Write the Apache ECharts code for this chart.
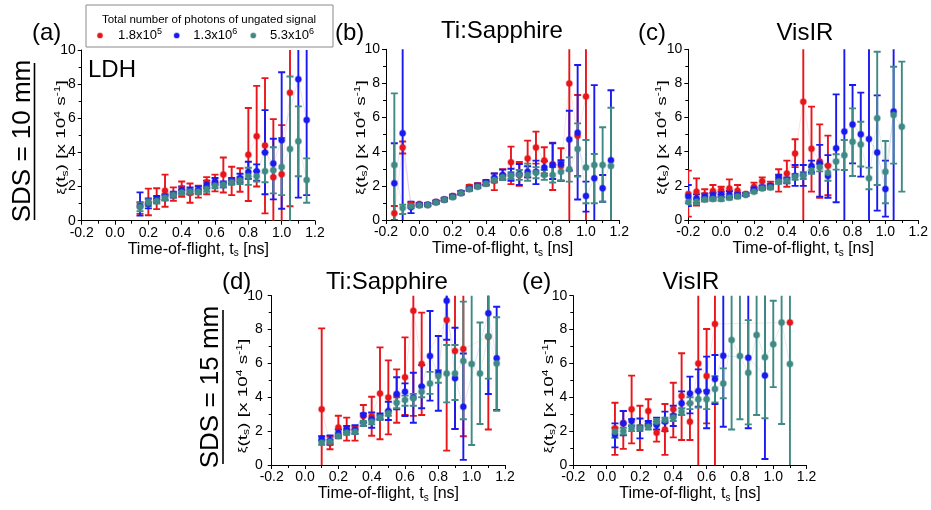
<!DOCTYPE html>
<html><head><meta charset="utf-8">
<script src="https://cdn.jsdelivr.net/npm/echarts@6/dist/echarts.min.js"></script>
<style>html,body{margin:0;padding:0;background:#fff}#c{width:931px;height:510px}</style>
</head><body><div id="c"></div>
<script>
// ---------------- DATA ----------------
const xTicks = [-0.2, 0.0, 0.2, 0.4, 0.6, 0.8, 1.0, 1.2];
const yTicks = [0, 2, 4, 6, 8, 10];
const legendNames = ['1.8x10{p|5}', '1.3x10{p|6}', '5.3x10{p|6}'];

// (a) LDH, SDS 10 mm
const tA = [0.15,0.2,0.25,0.3,0.35,0.4,0.45,0.5,0.55,0.6,0.65,0.7,0.75,0.8,0.85,0.9,0.95,1.0,1.05,1.1,1.15];
const aRed    = [0.85,1.05,1.2,1.75,1.5,1.88,1.62,1.72,2.25,2.25,2.7,2.35,2.4,3.87,4.95,4.4,2.55,2.72,7.5,null,null];
const aRedLo  = [0.4,0.32,0.68,0.82,1.17,1.4,1.05,1.35,1.55,1.72,1.65,1.5,1.7,1.15,2.0,0.43,-1,-1,0.85,null,null];
const aRedHi  = [1.08,1.88,1.9,2.7,1.95,2.3,2.18,2.05,2.55,2.7,3.7,3.16,3.07,6.6,7.9,8.35,5.95,5.6,12,null,null];
const aBlue   = [0.85,1.0,1.3,1.4,1.55,1.8,1.75,1.8,2.1,2.3,2.15,2.35,2.5,2.85,2.9,4.0,3.35,4.72,null,8.28,5.9];
const aBlueLo = [0.3,0.72,1.05,1.2,1.35,1.6,1.55,1.6,1.9,2.1,1.95,2.15,2.25,2.45,2.35,1.55,1.25,0.7,null,1.35,1.5];
const aBlueHi = [1.66,1.3,1.45,1.55,1.7,2.0,1.95,2.0,2.35,2.5,2.3,2.5,2.75,3.45,3.3,6.48,4.8,8.7,null,12,12];
const aTeal   = [0.8,1.05,1.15,1.35,1.5,1.65,1.7,1.7,1.85,2.05,2.1,2.25,2.35,2.6,2.6,2.9,2.95,3.15,4.2,4.65,2.38];
const aTealLo = [0.55,0.85,1.0,1.2,1.35,1.5,1.55,1.55,1.7,1.9,1.95,2.1,2.15,2.1,2.3,2.25,1.6,1.5,-1,2.6,1.05];
const aTealHi = [1.05,1.25,1.3,1.5,1.65,1.8,1.85,1.85,2.0,2.2,2.25,2.4,2.55,3.1,2.9,4.0,4.3,4.85,8.45,6.7,3.65];

// (b) Ti:Sapphire, SDS 10 mm
const tB = [-0.15,-0.1,-0.05,0,0.05,0.1,0.15,0.2,0.25,0.3,0.35,0.4,0.45,0.5,0.55,0.6,0.65,0.7,0.75,0.8,0.85,0.9,0.95,1.0,1.05,1.1,1.15];
const bRed    = [0.4,4.25,0.92,0.93,0.9,1.05,1.2,1.4,1.6,1.95,2.0,2.15,2.3,2.6,3.38,2.64,3.6,4.24,3.48,3.26,3.16,8.0,4.94,7.23,null,null,null];
const bRedLo  = [0,3.9,0.82,0.86,0.83,0.98,1.12,1.32,1.52,1.85,1.88,2.05,1.75,2.4,2.1,2.0,2.5,3.3,2.73,1.76,2.3,-1,2.58,-1,null,null,null];
const bRedHi  = [0.82,4.6,1.02,1.0,0.97,1.12,1.28,1.48,1.68,2.05,2.15,2.28,2.73,2.97,4.3,3.4,4.65,5.18,4.26,4.53,4.2,12,7.32,12,null,null,null];
const bBlue   = [2.15,5.08,0.75,0.9,0.9,1.05,1.2,1.38,1.6,1.85,2.0,2.2,2.48,2.64,2.64,2.7,2.83,2.83,3.07,3.22,3.28,4.72,5.11,1.4,2.44,1.86,3.5];
const bBlueLo = [-0.2,-1,0.4,0.8,0.82,0.97,1.1,1.28,1.5,1.75,1.88,2.05,2.25,2.35,2.3,2.05,2.5,2.1,2.6,2.4,2.3,2.9,1.2,0.49,-3,1.07,-0.6];
const bBlueHi = [4.5,12,1.07,1.0,1.0,1.15,1.3,1.48,1.7,1.95,2.12,2.35,2.72,2.95,3.0,3.28,3.15,3.48,3.45,4.5,3.5,6.4,9.08,2.25,7.9,2.64,7.6];
const bTeal   = [3.22,0.7,0.8,0.85,0.88,1.03,1.18,1.33,1.57,1.8,1.95,2.12,2.34,2.5,2.6,2.64,2.64,2.77,2.64,2.64,2.83,2.97,4.16,3.08,3.22,3.22,3.16];
const bTealLo = [-1,0.35,0.7,0.78,0.8,0.95,1.1,1.25,1.48,1.7,1.85,2.0,2.2,2.35,2.4,2.35,2.3,2.45,2.35,2.2,2.3,2.25,2.54,0.98,0.98,1.07,-0.3];
const bTealHi = [7.42,0.9,0.9,0.92,0.96,1.1,1.26,1.41,1.66,1.9,2.05,2.24,2.48,2.65,2.8,2.93,3.3,3.1,2.93,3.1,3.4,3.67,5.66,4.69,3.87,5.43,6.58];

// (c) VisIR, SDS 10 mm
const tC = [-0.2,-0.15,-0.1,-0.05,0,0.05,0.1,0.15,0.2,0.25,0.3,0.35,0.4,0.45,0.5,0.55,0.6,0.65,0.7,0.75,0.8,0.85,0.9,0.95,1.0,1.05,1.1];
const cRed    = [1.52,1.66,1.46,1.7,1.76,1.85,1.72,1.52,1.95,2.27,2.05,2.48,2.72,3.9,6.93,4.18,3.42,3.18,null,null,null,null,null,null,null,null,null];
const cRedLo  = [0.2,0.85,1.1,1.2,1.5,1.3,1.4,1.42,1.76,1.85,1.85,1.66,1.95,3.1,-1,1.66,1.3,1.45,null,null,null,null,null,null,null,null,null];
const cRedHi  = [2.89,2.44,1.8,2.05,1.95,2.38,2.05,1.6,2.19,2.5,2.25,2.97,3.48,4.73,12,6.64,5.6,4.94,null,null,null,null,null,null,null,null,null];
const cBlue   = [1.37,1.27,1.37,1.46,1.5,1.52,1.46,1.5,1.8,1.91,1.99,2.5,2.34,2.58,2.64,3.16,3.32,2.58,4.2,5.18,5.6,5.02,4.75,3.95,1.82,6.35,null];
const cBlueLo = [0.82,1.0,1.2,1.3,1.35,1.35,1.35,1.42,1.7,1.8,1.85,2.25,2.15,2.0,2.0,2.8,1.37,1.3,1.04,-1,3.32,2.54,-1,0.55,0.2,-1,null];
const cBlueHi = [2.05,1.5,1.55,1.6,1.65,1.7,1.6,1.58,1.9,2.02,2.1,2.65,2.5,3.22,3.22,3.48,4.4,3.8,7.36,12,7.91,7.46,12,7.3,3.48,12,null];
const cTeal   = [1.05,1.07,1.2,1.23,1.23,1.3,1.37,1.48,1.66,1.85,1.91,2.25,2.3,2.54,2.6,2.9,3.09,2.77,3.42,3.8,4.59,4.43,2.44,5.96,2.83,6.15,5.47];
const cTealLo = [0.9,0.95,1.1,1.13,1.13,1.2,1.27,1.4,1.58,1.75,1.8,2.12,2.18,2.35,2.4,2.7,2.85,2.3,2.95,2.93,2.58,3.13,1.8,2.05,0.98,3.3,1.66];
const cTealHi = [1.2,1.2,1.3,1.33,1.33,1.4,1.47,1.56,1.74,1.95,2.0,2.38,2.42,2.7,2.8,3.1,3.3,3.2,3.85,4.69,6.54,5.76,3.07,9.86,4.63,8.98,9.28];

// (d) Ti:Sapphire, SDS 15 mm
const tD = [0.1,0.15,0.2,0.25,0.3,0.35,0.4,0.45,0.5,0.55,0.6,0.65,0.7,0.75,0.8,0.85,0.9,0.95,1.0,1.05,1.1,1.15];
const dRed    = [3.29,1.3,2.22,2.1,2.1,2.89,2.89,4.23,3.98,4.13,5.18,9.11,5.96,null,null,8.56,6.73,6.85,null,null,7.58,null];
const dRedLo  = [-1.5,0.93,1.57,1.44,1.44,2.3,1.73,1.52,1.81,2.5,2.95,2.9,2.95,null,null,0.85,2.13,1.7,null,null,2.1,null];
const dRedHi  = [8.07,1.67,2.91,2.8,2.26,3.54,4.03,6.95,6.18,5.65,7.54,12,9.0,null,null,12,12,12,null,null,12,null];
const dBlue   = [1.57,1.44,1.9,2.12,2.07,2.95,2.7,2.85,3.19,4.19,4.33,3.98,4.63,6.44,5.45,9.7,5.12,3.44,null,null,8.96,6.3];
const dBlueLo = [1.45,1.2,1.7,1.9,1.85,2.5,2.2,2.7,2.66,3.29,2.89,2.5,3.35,3.8,3.2,7.4,2.13,0.3,null,null,4.19,3.25];
const dBlueHi = [1.7,1.75,2.1,2.3,2.35,3.05,3.1,3.05,3.74,5.18,4.82,5.45,5.9,9.1,7.62,12,8.11,6.59,null,null,12,9.35];
const dTeal   = [1.32,1.38,1.71,1.9,1.97,2.46,2.56,2.8,3.05,3.68,3.84,3.94,4.33,4.82,5.26,5.41,5.41,6.14,5.96,5.41,7.6,6.0];
const dTealLo = [1.2,1.28,1.6,1.78,1.85,2.3,2.4,2.65,2.9,3.35,3.5,3.5,4.0,4.2,4.86,3.7,3.84,2.7,1.18,2.42,5.1,3.2];
const dTealHi = [1.45,1.5,1.82,2.02,2.1,2.6,2.7,2.95,3.2,4.0,4.1,4.2,4.65,5.5,5.6,7.09,7.09,9.65,12,8.42,10.5,8.73];

// (e) VisIR, SDS 15 mm
const tE = [0.05,0.1,0.15,0.2,0.25,0.3,0.35,0.4,0.45,0.5,0.55,0.6,0.65,0.7,0.75,0.8,0.85,0.9,0.95,1.0,1.05,1.1];
const eRed    = [2.17,2.46,3.29,2.2,3.19,1.91,2.1,3.29,4.07,2.56,6.0,5.26,8.33,null,null,null,null,null,null,null,null,8.42];
const eRedLo  = [0.6,0.95,1.28,0.89,2.36,1.38,0.6,1.63,1.48,1.48,-2,2.46,-2,null,null,null,null,null,null,null,null,null];
const eRedHi  = [3.68,3.19,5.28,3.5,3.88,2.56,3.6,4.86,6.6,3.64,12,8.03,12,null,null,null,null,null,null,null,null,null];
const eBlue   = [1.77,2.46,2.6,2.17,2.46,2.36,2.56,2.89,3.64,4.23,4.37,4.33,5.08,6.46,null,null,6.34,null,5.28,null,null,null];
const eBlueLo = [1.04,1.75,2.3,1.57,2.3,2.1,2.0,2.3,2.95,3.05,3.44,2.17,3.6,2.26,null,null,2.17,null,0.35,null,null,null];
const eBlueHi = [2.46,3.19,2.7,2.75,2.6,2.8,3.15,3.5,4.35,5.22,5.65,6.4,6.5,12,null,null,12,null,10.2,null,null,null];
const eTeal   = [1.97,2.0,2.17,2.17,2.26,2.56,2.66,2.81,3.15,3.64,3.88,3.88,4.49,4.82,7.38,6.44,5.45,7.68,6.37,7.13,8.42,5.96];
const eTealLo = [1.6,1.8,2.0,2.0,2.1,2.4,2.5,2.6,2.95,3.3,3.4,3.3,3.7,3.94,2.1,2.7,2.4,2.95,2.76,4.6,2.42,-1];
const eTealHi = [2.2,2.2,2.35,2.35,2.45,2.7,2.8,3.0,3.35,4.0,4.35,4.4,5.25,5.71,12,12,8.56,12,12,9.7,12,12];

// ---------------- CHART ----------------
const FONT = '"Liberation Sans", Arial, sans-serif';
const COLORS = ['#e8161b', '#1a1af0', '#3f8a85'];
const HALO = ['rgba(232,22,27,0.35)', 'rgba(26,26,240,0.35)', 'rgba(63,138,133,0.4)'];
const FAINT = ['rgba(232,22,27,0.12)', 'rgba(26,26,240,0.12)', 'rgba(63,138,133,0.15)'];

const panels = [
  {t: tA, v: [aRed, aBlue, aTeal], lo: [aRedLo, aBlueLo, aTealLo], hi: [aRedHi, aBlueHi, aTealHi]},
  {t: tB, v: [bRed, bBlue, bTeal], lo: [bRedLo, bBlueLo, bTealLo], hi: [bRedHi, bBlueHi, bTealHi]},
  {t: tC, v: [cRed, cBlue, cTeal], lo: [cRedLo, cBlueLo, cTealLo], hi: [cRedHi, cBlueHi, cTealHi]},
  {t: tD, v: [dRed, dBlue, dTeal], lo: [dRedLo, dBlueLo, dTealLo], hi: [dRedHi, dBlueHi, dTealHi]},
  {t: tE, v: [eRed, eBlue, eTeal], lo: [eRedLo, eBlueLo, eTealLo], hi: [eRedHi, eBlueHi, eTealHi]}
];

const grids = [
  {left: 81.7, top: 50, width: 233.3, height: 170.7},
  {left: 386, top: 49.3, width: 233.3, height: 170.7},
  {left: 688.3, top: 49.3, width: 233.3, height: 170.7},
  {left: 271.7, top: 295.7, width: 233.3, height: 169.3},
  {left: 573.3, top: 295.7, width: 233.3, height: 169.3}
];
const xNameGap = [17, 17, 17, 20, 20];

const xAxes = grids.map((g, i) => ({
  gridIndex: i, type: 'value',
  min: xTicks[0], max: xTicks[xTicks.length - 1], interval: 0.2,
  axisLine: {show: true, onZero: false, lineStyle: {color: '#000', width: 1}},
  axisTick: {show: true, inside: false, length: 4, lineStyle: {color: '#000'}},
  minorTick: {show: true, splitNumber: 2, length: 3, lineStyle: {color: '#000'}},
  splitLine: {show: false},
  axisLabel: {color: '#000', fontSize: 14, fontFamily: FONT, margin: 5,
    formatter: v => (Math.abs(v) < 1e-9 ? 0 : v).toFixed(1)},
  name: 'Time-of-flight, t{s|s} [ns]', nameLocation: 'middle', nameGap: xNameGap[i],
  nameTextStyle: {color: '#000', fontSize: 16, fontFamily: FONT, lineHeight: 18,
    rich: {s: {fontSize: 10, fontFamily: FONT, color: '#000', verticalAlign: 'bottom', lineHeight: 10}}}
}));

const yAxes = grids.map((g, i) => ({
  gridIndex: i, type: 'value',
  min: yTicks[0], max: yTicks[yTicks.length - 1], interval: 2,
  axisLine: {show: true, onZero: false, lineStyle: {color: '#000', width: 1}},
  axisTick: {show: true, inside: false, length: 4, lineStyle: {color: '#000'}},
  minorTick: {show: true, splitNumber: 2, length: 3, lineStyle: {color: '#000'}},
  splitLine: {show: false},
  axisLabel: {color: '#000', fontSize: 14, fontFamily: FONT, margin: i === 3 ? 9 : 6}
}));

function makeRender(color) {
  return function (params, api) {
    const x = api.value(0), lo = api.value(2), hi = api.value(3);
    const a = api.coord([x, hi]), b = api.coord([x, lo]);
    const w = 3.5;
    const st = {stroke: color, lineWidth: 1.9};
    return {type: 'group', children: [
      {type: 'line', shape: {x1: a[0], y1: a[1], x2: b[0], y2: b[1]}, style: st},
      {type: 'line', shape: {x1: a[0] - w, y1: a[1], x2: a[0] + w, y2: a[1]}, style: st},
      {type: 'line', shape: {x1: b[0] - w, y1: b[1], x2: b[0] + w, y2: b[1]}, style: st}
    ]};
  };
}

const series = [];
panels.forEach((p, i) => {
  for (let k = 0; k < 3; k++) {
    const pts = [], errs = [];
    p.t.forEach((t, j) => {
      const v = p.v[k][j];
      if (v == null) return;
      pts.push([t, v]);
      if (p.lo[k][j] != null && p.hi[k][j] != null) errs.push([t, v, p.lo[k][j], p.hi[k][j]]);
    });
    series.push({
      type: 'line', xAxisIndex: i, yAxisIndex: i, data: pts, showSymbol: false, symbol: 'none',
      lineStyle: {color: FAINT[k], width: 1}, z: 1, silent: true, clip: true
    });
    series.push({
      type: 'custom', xAxisIndex: i, yAxisIndex: i, data: errs,
      dimensions: ['t', 'v', 'lo', 'hi'], encode: {x: 0, y: 1},
      renderItem: makeRender(COLORS[k]), clip: true, z: 2 + k, silent: true
    });
    series.push({
      type: 'scatter', xAxisIndex: i, yAxisIndex: i, data: pts, symbol: 'circle', symbolSize: 6,
      itemStyle: {color: COLORS[k], borderColor: HALO[k], borderWidth: 1.5, opacity: 1},
      z: 6 + k, silent: true
    });
  }
});

function txt(x, y, text, size, opts) {
  return Object.assign({type: 'text', x: x, y: y, silent: true,
    style: Object.assign({text: text, fill: '#000', font: size + 'px ' + FONT,
      align: 'left', verticalAlign: 'middle'}, (opts && opts.style) || {})}, (opts && opts.el) || {});
}

const yTitlePos = [[61.7, 137.5], [361, 137.5], [662.5, 137.5], [243, 396], [549, 396]];
const yTitleRich = {
  sb: {fontSize: 12, fontFamily: FONT, fill: '#000', verticalAlign: 'bottom', lineHeight: 12},
  sp: {fontSize: 12, fontFamily: FONT, fill: '#000', verticalAlign: 'top', lineHeight: 12},
  xi: {fontSize: 15, fontFamily: FONT, fill: '#000'}
};
const graphics = [];
yTitlePos.forEach(pos => {
  graphics.push({type: 'text', x: pos[0], y: pos[1], rotation: Math.PI / 2, scaleX: 1, scaleY: 0.72, silent: true,
    style: {text: '{xi|ξ}(t{sb|s}) [x 10{sp|4} s{sp|-1}]', fill: '#000', fontSize: 19, fontFamily: FONT,
      lineHeight: 22, align: 'center', verticalAlign: 'middle', rich: yTitleRich}});
});

// panel letters and titles
graphics.push(txt(32, 33, '(a)', 24));
graphics.push(txt(88, 70, 'LDH', 24));
graphics.push(txt(335, 33, '(b)', 24));
graphics.push(txt(502, 31, 'Ti:Sapphire', 24, {style: {align: 'center'}}));
graphics.push(txt(638, 33, '(c)', 24));
graphics.push(txt(805, 33, 'VisIR', 24, {style: {align: 'center'}}));
graphics.push(txt(222, 282, '(d)', 24));
graphics.push(txt(387, 282, 'Ti:Sapphire', 24, {style: {align: 'center'}}));
graphics.push(txt(522, 282, '(e)', 24));
graphics.push(txt(691, 282, 'VisIR', 24, {style: {align: 'center'}}));

// SDS labels (rotated, underlined)
graphics.push({type: 'text', x: 23, y: 141, rotation: Math.PI / 2, silent: true,
  style: {text: 'SDS = 10 mm', fill: '#000', font: '26px ' + FONT, align: 'center', verticalAlign: 'middle'}});
graphics.push({type: 'line', silent: true, shape: {x1: 34.5, y1: 63, x2: 34.5, y2: 220}, style: {stroke: '#000', lineWidth: 1.6}});
graphics.push({type: 'text', x: 211, y: 387, rotation: Math.PI / 2, silent: true,
  style: {text: 'SDS = 15 mm', fill: '#000', font: '26px ' + FONT, align: 'center', verticalAlign: 'middle'}});
graphics.push({type: 'line', silent: true, shape: {x1: 223, y1: 310, x2: 223, y2: 464}, style: {stroke: '#000', lineWidth: 1.6}});

// legend box
graphics.push({type: 'rect', silent: true, shape: {x: 86, y: 5, width: 247, height: 42},
  style: {fill: '#fff', stroke: '#8a8a8a', lineWidth: 1}, z: 10});
graphics.push(Object.assign(txt(209, 19.5, 'Total number of photons of ungated signal', 11.5, {style: {align: 'center'}}), {z: 11}));
const legX = [[100, 118], [176.7, 193.3], [253.3, 270]];
legX.forEach((lx, k) => {
  graphics.push({type: 'circle', silent: true, shape: {cx: lx[0], cy: 35.5, r: 2.6},
    style: {fill: COLORS[k], stroke: HALO[k], lineWidth: 1.2}, z: 11});
  graphics.push({type: 'text', x: lx[1], y: 35.5, silent: true, z: 11,
    style: {text: legendNames[k], fill: '#000', fontSize: 13, fontFamily: FONT, lineHeight: 17,
      align: 'left', verticalAlign: 'middle',
      rich: {p: {fontSize: 9, fontFamily: FONT, fill: '#000', verticalAlign: 'top', lineHeight: 9}}}});
});

const chart = echarts.init(document.getElementById('c'), null, {renderer: 'canvas'});
chart.setOption({
  animation: false,
  backgroundColor: '#fff',
  grid: grids,
  xAxis: xAxes,
  yAxis: yAxes,
  series: series,
  graphic: graphics
});
</script>
</body></html>
